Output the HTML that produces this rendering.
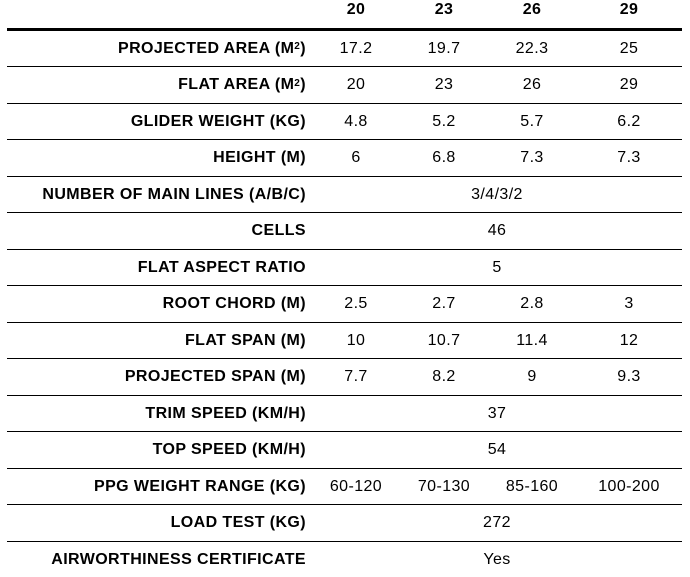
<!DOCTYPE html>
<html>
<head>
<meta charset="utf-8">
<style>
html,body{margin:0;padding:0;background:#fff;}
body{width:690px;height:572px;position:relative;overflow:hidden;font-family:"Liberation Sans",Arial,sans-serif;color:#000;font-size:16px;letter-spacing:0.4px;}
.ln{position:absolute;left:7px;width:675px;height:1px;background:#000;}
.row{position:absolute;left:0;width:690px;}
.c{position:absolute;top:0;height:100%;display:flex;align-items:center;justify-content:center;white-space:nowrap;}
.lab{left:0;width:306px;justify-content:flex-end;font-weight:bold;}
.v1{left:306px;width:100px;}
.v2{left:394px;width:100px;}
.v3{left:482px;width:100px;}
.v4{left:579px;width:100px;}
.sp{left:397px;width:200px;}
.hd{font-weight:bold;}
sup{font-size:10px;vertical-align:top;position:relative;top:-2px;}
</style>
</head>
<body>
<div class="row" style="top:0;height:20px;">
  <div class="c v1 hd">20</div><div class="c v2 hd">23</div><div class="c v3 hd">26</div><div class="c v4 hd">29</div>
</div>
<div class="ln" style="top:28px;height:3px;"></div>

<div class="row" style="top:31px;height:35px;"><div class="c lab">PROJECTED AREA (M<sup>2</sup>)</div><div class="c v1">17.2</div><div class="c v2">19.7</div><div class="c v3">22.3</div><div class="c v4">25</div></div>
<div class="ln" style="top:66px;"></div>
<div class="row" style="top:67px;height:36px;"><div class="c lab">FLAT AREA (M<sup>2</sup>)</div><div class="c v1">20</div><div class="c v2">23</div><div class="c v3">26</div><div class="c v4">29</div></div>
<div class="ln" style="top:103px;"></div>
<div class="row" style="top:104px;height:35px;"><div class="c lab">GLIDER WEIGHT (KG)</div><div class="c v1">4.8</div><div class="c v2">5.2</div><div class="c v3">5.7</div><div class="c v4">6.2</div></div>
<div class="ln" style="top:139px;"></div>
<div class="row" style="top:140px;height:36px;"><div class="c lab">HEIGHT (M)</div><div class="c v1">6</div><div class="c v2">6.8</div><div class="c v3">7.3</div><div class="c v4">7.3</div></div>
<div class="ln" style="top:176px;"></div>
<div class="row" style="top:177px;height:35px;"><div class="c lab">NUMBER OF MAIN LINES (A/B/C)</div><div class="c sp">3/4/3/2</div></div>
<div class="ln" style="top:212px;"></div>
<div class="row" style="top:213px;height:36px;"><div class="c lab">CELLS</div><div class="c sp">46</div></div>
<div class="ln" style="top:249px;"></div>
<div class="row" style="top:250px;height:35px;"><div class="c lab">FLAT ASPECT RATIO</div><div class="c sp">5</div></div>
<div class="ln" style="top:285px;"></div>
<div class="row" style="top:286px;height:36px;"><div class="c lab">ROOT CHORD (M)</div><div class="c v1">2.5</div><div class="c v2">2.7</div><div class="c v3">2.8</div><div class="c v4">3</div></div>
<div class="ln" style="top:322px;"></div>
<div class="row" style="top:323px;height:35px;"><div class="c lab">FLAT SPAN (M)</div><div class="c v1">10</div><div class="c v2">10.7</div><div class="c v3">11.4</div><div class="c v4">12</div></div>
<div class="ln" style="top:358px;"></div>
<div class="row" style="top:359px;height:36px;"><div class="c lab">PROJECTED SPAN (M)</div><div class="c v1">7.7</div><div class="c v2">8.2</div><div class="c v3">9</div><div class="c v4">9.3</div></div>
<div class="ln" style="top:395px;"></div>
<div class="row" style="top:396px;height:35px;"><div class="c lab">TRIM SPEED (KM/H)</div><div class="c sp">37</div></div>
<div class="ln" style="top:431px;"></div>
<div class="row" style="top:432px;height:36px;"><div class="c lab">TOP SPEED (KM/H)</div><div class="c sp">54</div></div>
<div class="ln" style="top:468px;"></div>
<div class="row" style="top:469px;height:35px;"><div class="c lab">PPG WEIGHT RANGE (KG)</div><div class="c v1">60-120</div><div class="c v2">70-130</div><div class="c v3">85-160</div><div class="c v4">100-200</div></div>
<div class="ln" style="top:504px;"></div>
<div class="row" style="top:505px;height:36px;"><div class="c lab">LOAD TEST (KG)</div><div class="c sp">272</div></div>
<div class="ln" style="top:541px;"></div>
<div class="row" style="top:542px;height:35px;"><div class="c lab">AIRWORTHINESS CERTIFICATE</div><div class="c sp">Yes</div></div>
</body>
</html>
